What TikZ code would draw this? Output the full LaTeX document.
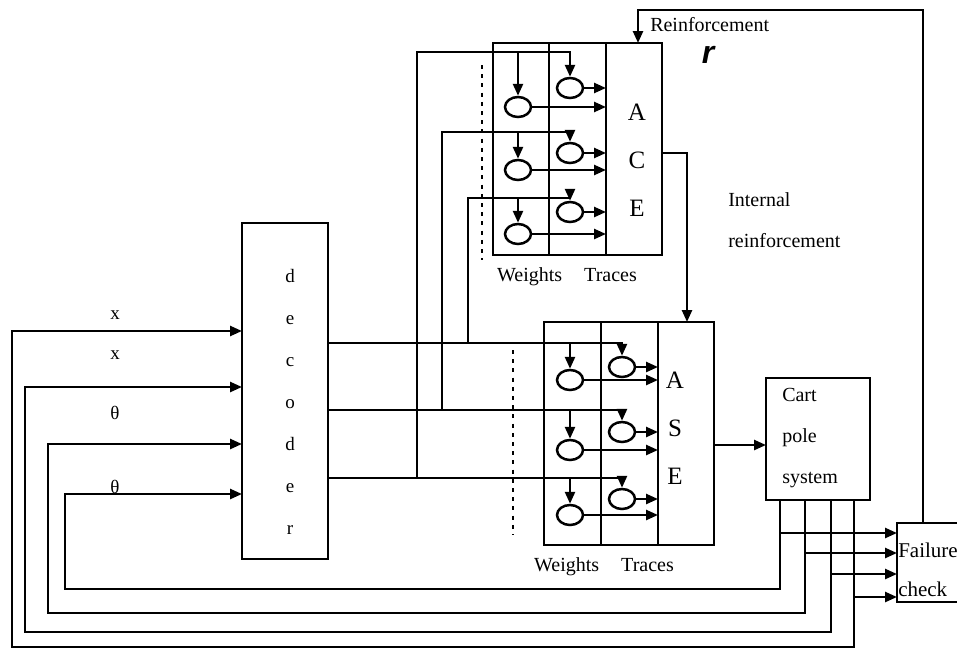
\documentclass[tikz,border=0pt]{standalone}
\usepackage{fontspec}
\setmainfont{Liberation Serif}
\newfontfamily\rsym{Liberation Sans}
\usetikzlibrary{arrows.meta,shapes.geometric}

\begin{document}
\begin{tikzpicture}[
      x=0.5pt,
      y=-0.5pt,
      line width=1.25pt,
      unit/.style={draw=black, inner sep=0pt, outer sep=0pt},
      cell/.style={
        ellipse,
        draw=black,
        inner sep=0pt,
        minimum width=13pt,
        minimum height=10pt
      },
      signal/.style={-{Triangle[length=6pt,width=5pt]}},
      guide/.style={dash pattern=on 2pt off 2.6pt},
      boxlabel/.style={font=\fontsize{12.5}{24}\selectfont, align=center, inner sep=0pt},
      note/.style={
        font=\fontsize{10}{20.5}\selectfont,
        align=left,
        anchor=west,
        inner sep=0pt
      },
      caption/.style={font=\fontsize{10}{12}\selectfont, inner sep=0pt},
      varlabel/.style={font=\fontsize{9.5}{11}\selectfont, inner sep=0pt}
    ]
    \clip (0,0) rectangle (957,653);
    \fill[white] (0,0) rectangle (957,653);

    \node[unit, minimum width=43pt, minimum height=168pt] (decoder) at (285,391) {};
    \node[unit, minimum width=84.5pt, minimum height=106pt] (ace) at (577.5,149) {};
    \node[unit, minimum width=85pt, minimum height=111.5pt] (ase) at (629,433.5) {};
    \node[unit, minimum width=52pt, minimum height=61pt] (cart) at (818,439) {};
    \node[unit, minimum width=41.5pt, minimum height=39.5pt] (failure) at (938.5,562.5) {};

    \coordinate (acecol1) at (549,43);
    \coordinate (acecol2) at (606,43);
    \coordinate (asecol1) at (601,322);
    \coordinate (asecol2) at (658,322);
    \draw (acecol1) -- (acecol1 |- ace.south);
    \draw (acecol2) -- (acecol2 |- ace.south);
    \draw (asecol1) -- (asecol1 |- ase.south);
    \draw (asecol2) -- (asecol2 |- ase.south);

    \draw[guide] (482,65) -- (482,260);
    \draw[guide] (513,350) -- (513,535);

    \node[boxlabel] (acetext) at (637,160) {A\\C\\E};
    \node[boxlabel] (asetext) at (675,428) {A\\S\\E};
    \node[font=\fontsize{9.5}{21}\selectfont, align=center, inner sep=0pt]
      (dectext) at (290,402) {d\\e\\c\\o\\d\\e\\r};
    \node[note] (carttext) at (781,438) {Cart\\pole\\system};
    \node[note, font=\fontsize{10.5}{19.75}\selectfont] (failtext) at (897,570) {Failure\\check};
    \node[note] (inttext) at (727,220) {Internal\\reinforcement};
    \node[note, font=\fontsize{10}{12}\selectfont] (reintext) at (649,25) {Reinforcement};
    \node[inner sep=0pt, font=\rsym\bfseries\itshape\fontsize{16}{16}\selectfont]
      (rsig) at (708,55) {r};
    \node[caption] (acecap) at (567,277) {Weights\hspace{11pt}Traces};
    \node[caption] (asecap) at (604,567) {Weights\hspace{11pt}Traces};

    \node[varlabel] (lblx) at (115,315) {x};
    \node[varlabel] (lblxd) at (115,355) {x};
    \node[varlabel] (lblth) at (115,413) {θ};
    \node[varlabel] (lblthd) at (115,487) {θ};

    \coordinate (dout1) at (328,343);
    \coordinate (dout2) at (328,410);
    \coordinate (dout3) at (328,478);

    \foreach \i/\ty/\wy in {1/88/107, 2/153/170, 3/212/234} {
      \node[cell] (acet\i) at (570,\ty) {};
      \node[cell] (acew\i) at (518,\wy) {};
      \draw[signal] (acet\i) -- (acet\i -| acecol2);
      \draw[signal] (acew\i) -- (acew\i -| acecol2);
    }

    \foreach \i/\ty/\wy in {1/367/380, 2/432/450, 3/499/515} {
      \node[cell] (aset\i) at (622,\ty) {};
      \node[cell] (asew\i) at (570,\wy) {};
      \draw[signal] (aset\i) -- (aset\i -| asecol2);
      \draw[signal] (asew\i) -- (asew\i -| asecol2);
      \draw[signal] (dout\i) -| (aset\i);
      \draw[signal] (asew\i |- dout\i) -- (asew\i);
    }

    \foreach \i/\lx/\ly/\d in {1/417/52/3, 2/442/132/2, 3/468/198/1} {
      \coordinate (acein\i) at (\lx,\ly);
      \draw[signal] (acein\i |- dout\d) -- (acein\i) -| (acet\i);
      \draw[signal] (acew\i |- acein\i) -- (acew\i);
    }

    \coordinate (in1) at (242,331);
    \coordinate (in2) at (242,387);
    \coordinate (in3) at (242,444);
    \coordinate (in4) at (242,494);
    \coordinate (cout1) at (780,500);
    \coordinate (cout2) at (805,500);
    \coordinate (cout3) at (831,500);
    \coordinate (cout4) at (854,500);
    \coordinate (fin1) at (897,533);
    \coordinate (fin2) at (897,553);
    \coordinate (fin3) at (897,574);
    \coordinate (fin4) at (897,597);

    \draw[signal] (cout4) |- (12,647) |- (in1);
    \draw[signal] (cout3) |- (25,632) |- (in2);
    \draw[signal] (cout2) |- (48,613) |- (in3);
    \draw[signal] (cout1) |- (65,589) |- (in4);
    \foreach \i in {1,...,4}
      \draw[signal] (cout\i |- fin\i) -- (fin\i);

    \coordinate (fout) at (923,523);
    \coordinate (rin) at (638,43);
    \draw[signal] (fout) -- (923,10) -| (rin);

    \coordinate (aceout) at (662,153);
    \coordinate (asein) at (687,322);
    \draw[signal] (aceout) -| (asein);

    \coordinate (aseout) at (714,445);
    \draw[signal] (aseout) -- (aseout -| cart.west);
  \end{tikzpicture}
\end{document}
